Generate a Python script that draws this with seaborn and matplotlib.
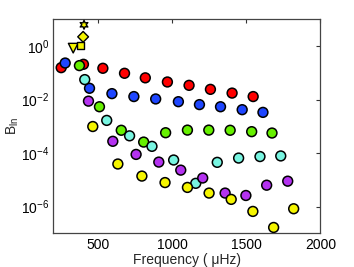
import matplotlib
matplotlib.use('Agg')
import matplotlib.pyplot as plt
import pandas as pd
import seaborn as sns

# ---- data ----
red_f = [253, 403, 534, 680, 820, 969, 1115, 1259, 1405, 1547]
red_b = [0.155, 0.207, 0.147, 0.0955, 0.0646, 0.0452, 0.0339, 0.024, 0.0174, 0.0129]
blue_f = [280, 444, 595, 743, 890, 1043, 1185, 1327, 1473, 1613]
blue_b = [0.231, 0.0263, 0.0166, 0.0129, 0.0105, 0.0083, 0.00646, 0.00537, 0.00417, 0.00331]
green_f = [376, 511, 658, 809, 957, 1104, 1248, 1392, 1537, 1674]
green_b = [0.185, 0.00537, 7.1e-4, 2.57e-4, 5.75e-4, 7.2e-4, 7.2e-4, 7.1e-4, 6.3e-4, 5.6e-4]
cyan_f = [412, 560, 714, 865, 1011, 1160, 1305, 1449, 1593, 1733]
cyan_b = [0.0555, 1.66e-3, 4.4e-4, 1.78e-4, 5.5e-5, 7.4e-6, 4.5e-5, 6.5e-5, 7.4e-5, 7.8e-5]
purple_f = [437, 601, 758, 911, 1059, 1207, 1358, 1498, 1638, 1780]
purple_b = [8.7e-3, 2.75e-4, 8.9e-5, 4.6e-5, 2.3e-5, 1.17e-5, 3.2e-6, 2.6e-6, 6.3e-6, 8.9e-6]
yellow_f = [466, 635, 797, 953, 1104, 1250, 1399, 1545, 1685, 1820]
yellow_b = [9.8e-4, 3.9e-5, 1.38e-5, 7.9e-6, 5.2e-6, 3.2e-6, 1.86e-6, 6.6e-7, 1.66e-7, 8.3e-7]

special_kind = ['tri', 'square', 'diamond', 'star']
special_f = [334, 383, 401, 407]
special_b = [0.83, 1.06, 2.2, 6.2]

series_names = ['red', 'blue', 'green', 'cyan', 'purple', 'yellow']
series_f = [red_f, blue_f, green_f, cyan_f, purple_f, yellow_f]
series_b = [red_b, blue_b, green_b, cyan_b, purple_b, yellow_b]
colors = {'red': '#ff0000', 'blue': '#1e46ff', 'green': '#66f000',
          'cyan': '#78f5e1', 'purple': '#b432f0', 'yellow': '#f5f500'}

rows = []
for name, fs, bs in zip(series_names, series_f, series_b):
    for f, b in zip(fs, bs):
        rows.append({'f': f, 'b': b, 's': name})
df = pd.DataFrame(rows)
sp = pd.DataFrame({'f': special_f, 'b': special_b, 'k': special_kind})

sns.set_style('white')
plt.rcParams['font.family'] = ['Liberation Sans', 'DejaVu Sans']

fig = plt.figure(figsize=(3.54, 2.67), dpi=100)
ax = fig.add_axes([0.1506, 0.126, 0.7544, 0.802])

sns.scatterplot(data=df, x='f', y='b', hue='s', palette=colors, s=50,
                edgecolor='black', linewidth=1.1, legend=False, ax=ax, zorder=3)
sns.scatterplot(data=sp, x='f', y='b', style='k', size='k',
                markers={'tri': 'v', 'square': 's', 'diamond': 'D', 'star': (6, 1, 0)},
                sizes={'tri': 48, 'square': 30, 'diamond': 30, 'star': 40},
                color='#f5f500', edgecolor='black',
                linewidth=1.0, legend=False, ax=ax, zorder=4)

ax.set_yscale('log')
ax.set_xlim(200, 2000)
ax.set_ylim(1e-7, 1e1)
ax.set_xticks([500, 1000, 1500, 2000])
ax.set_yticks([1e0, 1e-2, 1e-4, 1e-6])
ax.minorticks_off()
ax.tick_params(direction='in', length=3, width=0.8, top=True, right=True,
               labelsize=10, colors='#333333', labelcolor='black', pad=3)
for s in ax.spines.values():
    s.set_visible(True)
    s.set_color('#444444')
    s.set_linewidth(0.9)
ax.set_xlabel('Frequency ( \u03bcHz)', fontsize=10, labelpad=1)
ax.set_ylabel(r'B$_{\mathregular{ln}}$', fontsize=10, labelpad=0)

fig.savefig('out.png', dpi=100)
